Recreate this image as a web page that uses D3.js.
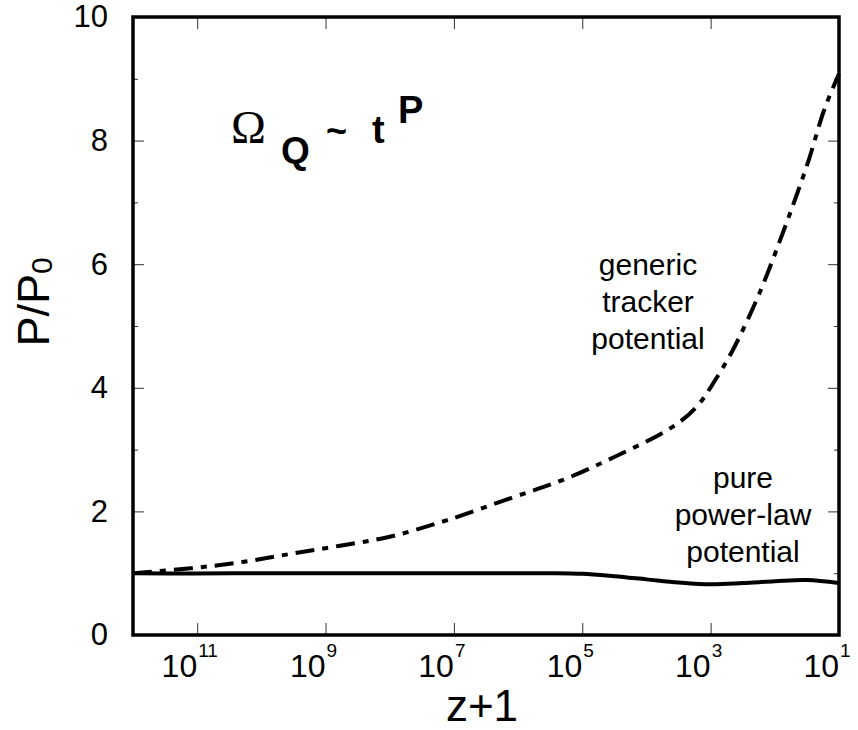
<!DOCTYPE html>
<html>
<head>
<meta charset="utf-8">
<script src="https://cdn.jsdelivr.net/npm/d3@7"></script>
<style>
  body { margin: 0; background: #fff; }
  svg { display: block; font-family: "Liberation Sans", Arial, sans-serif; }
</style>
</head>
<body>
<svg id="chart" width="858" height="730"></svg>
<script>
// exponents of (z+1)
var trackerExp = [12, 11.1, 10.3, 9.56, 8.8, 8.0, 7.1, 6.1, 5.3, 4.5, 3.75, 3.44, 3.18, 2.98, 2.66, 2.24, 1.86, 1.67, 1.47, 1.23, 1.0];
var trackerVal = [1.0, 1.08, 1.18, 1.31, 1.44, 1.59, 1.86, 2.22, 2.51, 2.88, 3.27, 3.48, 3.74, 4.04, 4.6, 5.53, 6.55, 7.09, 7.69, 8.5, 9.08];

var powerExp = [12, 11, 10, 9, 8, 7, 6, 5.5, 5, 4.5, 4, 3.5, 3, 2.5, 2, 1.5, 1];
var powerVal = [1.0, 0.995, 1, 1, 1, 1, 1, 1.0, 0.99, 0.95, 0.9, 0.85, 0.82, 0.84, 0.87, 0.89, 0.84];

var xTickExp = [11, 9, 7, 5, 3, 1];
var yMajor = [0, 2, 4, 6, 8, 10];
var yMinor = [1, 3, 5, 7, 9];

var svg = d3.select("#chart");
var mLeft = 133, mTop = 17, w = 706, h = 618;

var x = d3.scaleLog().domain([1e12, 10]).range([0, w]);
var y = d3.scaleLinear().domain([0, 10]).range([h, 0]);

var g = svg.append("g").attr("transform", "translate(" + mLeft + "," + mTop + ")");

// ticks, pointing inward
function tickStyle(sel) {
  sel.select(".domain").remove();
  sel.selectAll(".tick line").attr("stroke", "#333").attr("stroke-width", 1);
}

var xTicks = xTickExp.filter(function (e) { return e > 1; }).map(function (e) { return Math.pow(10, e); });
g.append("g").attr("transform", "translate(0," + h + ")")
  .call(d3.axisBottom(x).tickValues(xTicks).tickSize(-12).tickFormat(""))
  .call(tickStyle);
g.append("g")
  .call(d3.axisTop(x).tickValues(xTicks).tickSize(-12).tickFormat(""))
  .call(tickStyle);

g.append("g")
  .call(d3.axisLeft(y).tickValues(yMajor).tickSize(-11).tickPadding(25).tickFormat(d3.format("d")))
  .call(tickStyle)
  .selectAll("text").style("font-size", "31px").attr("fill", "#000")
  .style("font-family", "Liberation Sans, Arial, sans-serif");
g.append("g")
  .call(d3.axisLeft(y).tickValues(yMinor).tickSize(-5).tickFormat(""))
  .call(tickStyle);
g.append("g").attr("transform", "translate(" + w + ",0)")
  .call(d3.axisRight(y).tickValues(yMajor).tickSize(-11).tickFormat(""))
  .call(tickStyle);
g.append("g").attr("transform", "translate(" + w + ",0)")
  .call(d3.axisRight(y).tickValues(yMinor).tickSize(-5).tickFormat(""))
  .call(tickStyle);

// x tick labels as 10^n
var xl = g.append("g").selectAll("g").data(xTickExp).enter().append("g")
  .attr("transform", function (d) { return "translate(" + x(Math.pow(10, d)) + "," + h + ")"; });
xl.append("text").attr("text-anchor", "end").attr("y", 42)
  .style("font-size", "32px").text("10");
xl.append("text").attr("text-anchor", "start").attr("x", 1).attr("y", 22)
  .style("font-size", "19px").text(function (d) { return d; });

// curves
var line = d3.line()
  .x(function (d) { return x(Math.pow(10, d[0])); })
  .y(function (d) { return y(d[1]); })
  .curve(d3.curveCatmullRom);

g.append("path")
  .datum(powerExp.map(function (e, i) { return [e, powerVal[i]]; }))
  .attr("d", line)
  .attr("fill", "none").attr("stroke", "#000").attr("stroke-width", 4);

g.append("path")
  .datum(trackerExp.map(function (e, i) { return [e, trackerVal[i]]; }))
  .attr("d", line)
  .attr("fill", "none").attr("stroke", "#000").attr("stroke-width", 4)
  .attr("stroke-dasharray", "19,8,6,8");

// frame
g.append("rect").attr("width", w).attr("height", h)
  .attr("fill", "none").attr("stroke", "#000").attr("stroke-width", 3.5);

// axis titles
svg.append("text").attr("x", 482).attr("y", 721).attr("text-anchor", "middle")
  .style("font-size", "44px").text("z+1");

var yt = svg.append("text").attr("transform", "translate(49,302) rotate(-90)")
  .attr("text-anchor", "middle").style("font-size", "45px");
yt.append("tspan").text("P/P");
yt.append("tspan").attr("dy", 3).style("font-size", "30px").text("0");

// formula
var f = svg.append("g");
f.append("text").attr("x", 231).attr("y", 143)
  .style("font-family", "Liberation Serif, Times New Roman, serif")
  .style("font-size", "47px").text("Ω");
f.append("text").attr("x", 281).attr("y", 163).style("font-weight", "bold")
  .style("font-size", "37px").text("Q");
f.append("text").attr("x", 326).attr("y", 143).style("font-weight", "bold")
  .style("font-size", "36px").text("~");
f.append("text").attr("x", 372).attr("y", 143).style("font-weight", "bold")
  .style("font-size", "38px").text("t");
f.append("text").attr("x", 398).attr("y", 123).style("font-weight", "bold")
  .style("font-size", "38px").text("P");

// curve labels
function label(lines, cx, y0) {
  svg.append("g").selectAll("text").data(lines).enter().append("text")
    .attr("x", cx).attr("y", function (d, i) { return y0 + i * 37; })
    .attr("text-anchor", "middle").style("font-size", "30px")
    .text(function (d) { return d; });
}
label(["generic", "tracker", "potential"], 648, 275);
label(["pure", "power-law", "potential"], 743, 488);
</script>
</body>
</html>
